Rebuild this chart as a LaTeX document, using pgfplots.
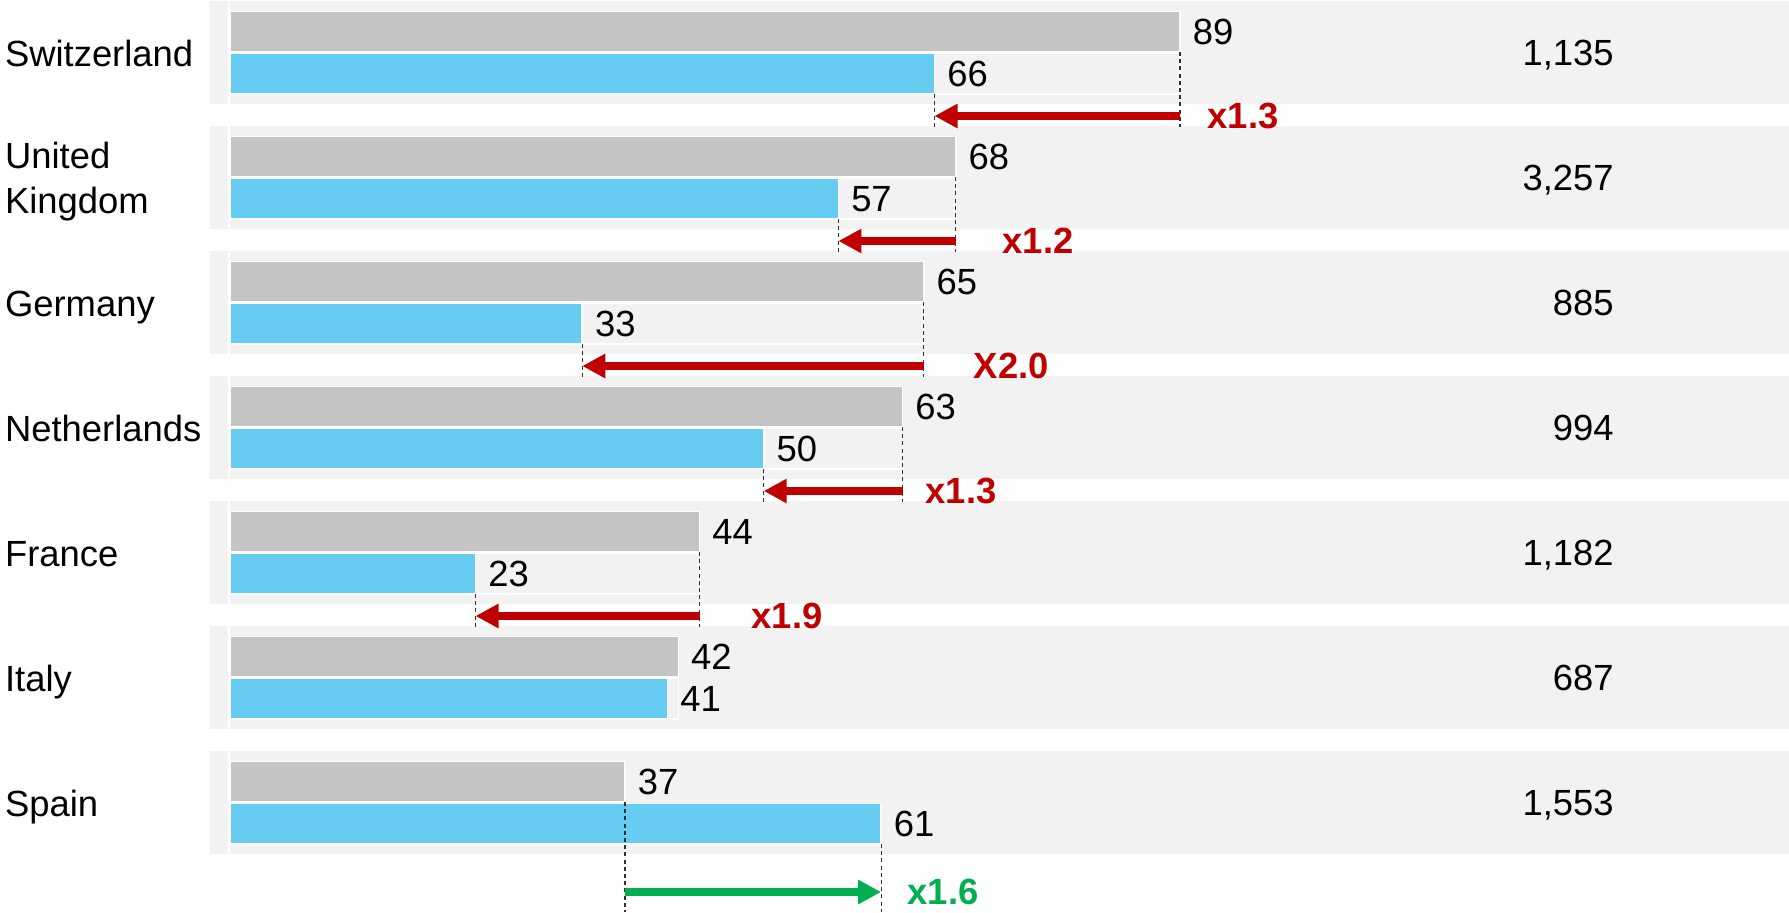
\documentclass[border=0pt]{standalone}
\usepackage{pgfplots}
\pgfplotsset{compat=1.18}
\usepackage{pgfplotstable}
\usepackage{fontspec}
\setmainfont{Liberation Sans}
\usetikzlibrary{arrows.meta}
\definecolor{panel}{HTML}{F2F2F2}
\definecolor{barg}{HTML}{C4C4C4}
\definecolor{barb}{HTML}{66CCF2}
\definecolor{myred}{HTML}{C00000}
\definecolor{mygreen}{HTML}{00B050}
\definecolor{dashcol}{HTML}{303030}

% y = vertical position (px from top), v = value
\pgfplotstableread{
y v
31.75 89
156.75 68
281.75 65
406.75 63
531.75 44
656.75 42
781.75 37
}\grayT
\pgfplotstableread{
y v
73.75 66
198.75 57
323.75 33
448.75 50
573.75 23
698.75 41
823.75 61
}\blueT
\pgfplotstableread{
y v
73.75 89
198.75 68
323.75 65
448.75 63
573.75 44
698.75 42
823.75 61
}\rowT

\begin{document}
\begin{tikzpicture}[font=\fontsize{9.1}{11.3}\selectfont]
\begin{axis}[
  name=ax,
  width=447.25pt, height=228pt, scale only axis,
  xmin=-21.548, xmax=146.05, ymin=0, ymax=912,
  y dir=reverse, hide axis, clip=false,
  enlargelimits=false,
  /pgf/number format/assume math mode=true,
]
\path (axis cs:-21.548,0) rectangle (axis cs:146.05,912);
% panels
\fill[panel] (axis cs:-1.83,1) rectangle (axis cs:146.05,103.5);
\fill[panel] (axis cs:-1.83,126) rectangle (axis cs:146.05,228.5);
\fill[panel] (axis cs:-1.83,251) rectangle (axis cs:146.05,353.5);
\fill[panel] (axis cs:-1.83,376) rectangle (axis cs:146.05,478.5);
\fill[panel] (axis cs:-1.83,501) rectangle (axis cs:146.05,603.5);
\fill[panel] (axis cs:-1.83,626) rectangle (axis cs:146.05,728.5);
\fill[panel] (axis cs:-1.83,751) rectangle (axis cs:146.05,853.5);
% white axis line in each panel
\draw[white, line width=0.5pt] (axis cs:-0.1,1) -- (axis cs:-0.1,103.5);
\draw[white, line width=0.5pt] (axis cs:-0.1,126) -- (axis cs:-0.1,228.5);
\draw[white, line width=0.5pt] (axis cs:-0.1,251) -- (axis cs:-0.1,353.5);
\draw[white, line width=0.5pt] (axis cs:-0.1,376) -- (axis cs:-0.1,478.5);
\draw[white, line width=0.5pt] (axis cs:-0.1,501) -- (axis cs:-0.1,603.5);
\draw[white, line width=0.5pt] (axis cs:-0.1,626) -- (axis cs:-0.1,728.5);
\draw[white, line width=0.5pt] (axis cs:-0.1,751) -- (axis cs:-0.1,853.5);

% row outline
\addplot[xbar, bar shift=0pt, bar width=40.5, fill=panel, draw=white, line width=0.3pt]
  table[x=v, y=y] {\rowT};
% gray bars
\addplot[xbar, bar shift=0pt, bar width=40.5, fill=barg, draw=white, line width=0.4pt,
  point meta=x, nodes near coords,
  every node near coord/.append style={anchor=west, inner sep=0pt, xshift=3pt, text=black, font=\fontsize{9.1}{11.3}\selectfont}]
  table[x=v, y=y] {\grayT};
% blue bars
\addplot[xbar, bar shift=0pt, bar width=40.5, fill=barb, draw=white, line width=0.4pt,
  point meta=x, nodes near coords,
  every node near coord/.append style={anchor=west, inner sep=0pt, xshift=3pt, text=black, font=\fontsize{9.1}{11.3}\selectfont}]
  table[x=v, y=y] {\blueT};

% dashed guide lines
\begin{scope}[draw=dashcol, line width=0.3pt, dash pattern=on 1pt off 0.8pt]
\draw (axis cs:89,52) -- (axis cs:89,127);
\draw (axis cs:66,94) -- (axis cs:66,127);
\draw (axis cs:68,177) -- (axis cs:68,252);
\draw (axis cs:57,219) -- (axis cs:57,252);
\draw (axis cs:65,302) -- (axis cs:65,377);
\draw (axis cs:33,344) -- (axis cs:33,377);
\draw (axis cs:63,427) -- (axis cs:63,502);
\draw (axis cs:50,469) -- (axis cs:50,502);
\draw (axis cs:44,552) -- (axis cs:44,627);
\draw (axis cs:23,594) -- (axis cs:23,627);
\draw (axis cs:37,802) -- (axis cs:37,912);
\draw (axis cs:61,844) -- (axis cs:61,912);
\end{scope}

% arrows
\begin{scope}[line width=1.9pt, -{Triangle[length=5.75pt,width=5.75pt]}]
\draw[myred] (axis cs:89,116) -- (axis cs:66,116);
\draw[myred] (axis cs:68,241) -- (axis cs:57,241);
\draw[myred] (axis cs:65,366) -- (axis cs:33,366);
\draw[myred] (axis cs:63,491) -- (axis cs:50,491);
\draw[myred] (axis cs:44,616) -- (axis cs:23,616);
\draw[mygreen] (axis cs:37,892) -- (axis cs:61,892);
\end{scope}

% multiplier labels
\begin{scope}[every node/.style={anchor=west, inner sep=0pt, font=\fontsize{9.1}{11.3}\selectfont\bfseries}]
\node[text=myred] at (axis cs:91.5,116) {x1.3};
\node[text=myred] at (axis cs:72.3,241) {x1.2};
\node[text=myred] at (axis cs:69.6,366) {X2.0};
\node[text=myred] at (axis cs:65.1,491) {x1.3};
\node[text=myred] at (axis cs:48.8,616) {x1.9};
\node[text=mygreen] at (axis cs:63.4,892) {x1.6};
\end{scope}

% country labels
\begin{scope}[every node/.style={anchor=base west, inner sep=0pt}]
\node at (axis cs:-21.15,66) {Switzerland};
\node at (axis cs:-21.15,168) {United};
\node at (axis cs:-21.15,213.3) {Kingdom};
\node at (axis cs:-21.15,316) {Germany};
\node at (axis cs:-21.15,441) {Netherlands};
\node at (axis cs:-21.15,566) {France};
\node at (axis cs:-21.15,691) {Italy};
\node at (axis cs:-21.15,816) {Spain};
\end{scope}

% right-hand totals
\begin{scope}[every node/.style={anchor=base east, inner sep=0pt}]
\node at (axis cs:129.7,65) {1,135};
\node at (axis cs:129.7,190) {3,257};
\node at (axis cs:129.7,315) {885};
\node at (axis cs:129.7,440) {994};
\node at (axis cs:129.7,565) {1,182};
\node at (axis cs:129.7,690) {687};
\node at (axis cs:129.7,815) {1,553};
\end{scope}
\end{axis}
\pgfresetboundingbox
\path (ax.south west) rectangle (ax.north east);
\end{tikzpicture}
\end{document}
